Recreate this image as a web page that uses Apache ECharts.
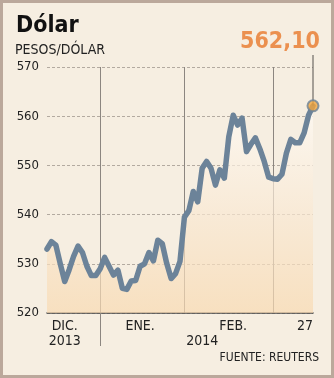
<!DOCTYPE html>
<html>
<head>
<meta charset="utf-8">
<script src="https://cdn.jsdelivr.net/npm/echarts@6/dist/echarts.min.js"></script>
<style>
  html, body { margin: 0; padding: 0; background: #f6eee1; }
  #chart {
    width: 334px; height: 378px;
    background: #f6eee1;
    box-shadow: inset 0 0 0 3px #bba89b;
  }
</style>
</head>
<body>
<div id="chart"></div>
<script>
// Peso per dollar exchange rate, daily closes, December 2013 to 27 February 2014
const days = [
  'd01','d02','d03','d04','d05','d06','d07','d08','d09','d10',
  'd11','d12','d13','d14','d15','d16','d17','d18','d19','d20',
  'd21','d22','d23','d24','d25','d26','d27','d28','d29','d30',
  'd31','d32','d33','d34','d35','d36','d37','d38','d39','d40',
  'd41','d42','d43','d44','d45','d46','d47','d48','d49','d50',
  'd51','d52','d53','d54','d55','d56','d57','d58','d59','d60',
  'd61'
];
const rates = [
  533.0, 534.5, 533.8, 530.0, 526.4, 528.8, 531.5, 533.6, 532.3, 529.5,
  527.6, 527.6, 529.0, 531.3, 529.5, 527.7, 528.7, 525.0, 524.8, 526.5,
  526.6, 529.5, 530.0, 532.3, 530.6, 534.8, 534.1, 530.1, 527.0, 528.0,
  530.5, 539.5, 540.8, 544.7, 542.6, 549.4, 550.8, 549.4, 546.0, 549.1,
  547.4, 555.8, 560.2, 558.2, 559.6, 552.8, 554.3, 555.6, 553.4, 550.8,
  547.6, 547.3, 547.2, 548.2, 552.5, 555.3, 554.6, 554.6, 556.6, 560.2,
  562.1
];

// Y axis ticks
const yMin = 520, yMax = 570, yStep = 10;

// Month / year labels, keyed by category index
const monthLabels = { 4: 'DIC.', 21: 'ENE.', 42: 'FEB.', 60: '27' };
const yearLabels = { 4: '2013', 35: '2014' };
// Month separators (the first one also splits the years)
const separators = [12, 31, 51];
const yearSplit = 12;

const lastIdx = rates.length - 1;
const lastValue = rates[lastIdx];
const fmt = v => v.toFixed(2).replace('.', ',');

const FONT = '"DejaVu Sans Condensed", "DejaVu Sans", sans-serif';
const LINE = '#6c8399';

// The closing day label hugs the right edge of the plot
const monthAxisData = days.map((d, i) =>
  i === lastIdx ? { value: d, textStyle: { align: 'right' } } : d);

const chart = echarts.init(document.getElementById('chart'), null, { renderer: 'canvas' });

const option = {
  backgroundColor: 'transparent',
  animation: false,
  title: [
    { text: 'Dólar', left: 16, top: 15, padding: 0,
      textStyle: { fontFamily: FONT, fontSize: 23, fontWeight: 'bold', color: '#111' } },
    { text: 'PESOS/DÓLAR', left: 15, top: 43, padding: 0,
      textStyle: { fontFamily: FONT, fontSize: 14, fontWeight: 'normal', color: '#222' } },
    { text: 'FUENTE: REUTERS', right: 15, top: 352, padding: 0,
      textStyle: { fontFamily: FONT, fontSize: 12, fontWeight: 'normal', color: '#222' } }
  ],
  grid: { left: 47, right: 21, top: 67, bottom: 65 },
  xAxis: [
    {
      type: 'category', data: monthAxisData, boundaryGap: false,
      axisLine: { lineStyle: { color: '#4a4a4a', width: 1.5 } },
      axisTick: {
        show: true, length: 33, inside: false,
        interval: (i) => i === yearSplit,
        lineStyle: { color: '#8c8680', width: 1 }
      },
      splitLine: {
        show: true,
        interval: (i) => separators.includes(i),
        lineStyle: { color: '#8c8680', width: 1 }
      },
      axisLabel: {
        interval: (i) => monthLabels[i] !== undefined,
        formatter: (v, i) => monthLabels[i] || '',
        margin: 6, fontFamily: FONT, fontSize: 14, color: '#222'
      }
    },
    {
      type: 'category', data: days, boundaryGap: false, position: 'bottom',
      axisLine: { show: false }, axisTick: { show: false }, splitLine: { show: false },
      axisLabel: {
        interval: (i) => yearLabels[i] !== undefined,
        formatter: (v, i) => yearLabels[i] || '',
        margin: 21, fontFamily: FONT, fontSize: 14, color: '#222'
      }
    }
  ],
  yAxis: {
    type: 'value', min: yMin, max: yMax, interval: yStep,
    axisLine: { show: false }, axisTick: { show: false },
    axisLabel: { margin: 8, fontFamily: FONT, fontSize: 13, color: '#222' },
    splitLine: { lineStyle: { color: '#b3aaa0', type: [3, 2], width: 1 } }
  },
  series: [
    {
      type: 'line', data: rates, xAxisIndex: 0,
      showSymbol: false, smooth: false,
      lineStyle: { color: LINE, width: 5.5, cap: 'round', join: 'round' },
      areaStyle: {
        color: new echarts.graphic.LinearGradient(0, 0, 0, 1, [
          { offset: 0, color: '#fefaf5' },
          { offset: 0.5, color: '#f9e8d3' },
          { offset: 1, color: '#f8d9b1' }
        ])
      },
      z: 3
    },
    {
      type: 'scatter', xAxisIndex: 0,
      data: [[lastIdx, lastValue]],
      symbol: 'circle', symbolSize: 11,
      itemStyle: { color: '#f2a53c', borderColor: LINE, borderWidth: 2 },
      label: {
        show: true, position: 'top', distance: 46, offset: [-33, 0],
        formatter: (p) => fmt(p.value[1]),
        fontFamily: FONT, fontSize: 23, fontWeight: 'bold', color: '#e8782a'
      },
      z: 5
    }
  ]
};
chart.setOption(option);

// Leader line from the value label down to the last point
const pt = chart.convertToPixel({ gridIndex: 0 }, [lastIdx, lastValue]);
chart.setOption({
  graphic: [{
    type: 'line', z: 4,
    shape: { x1: pt[0], y1: 55, x2: pt[0], y2: pt[1] },
    style: { stroke: '#55504c', lineWidth: 1 }
  }]
});
</script>
</body>
</html>
